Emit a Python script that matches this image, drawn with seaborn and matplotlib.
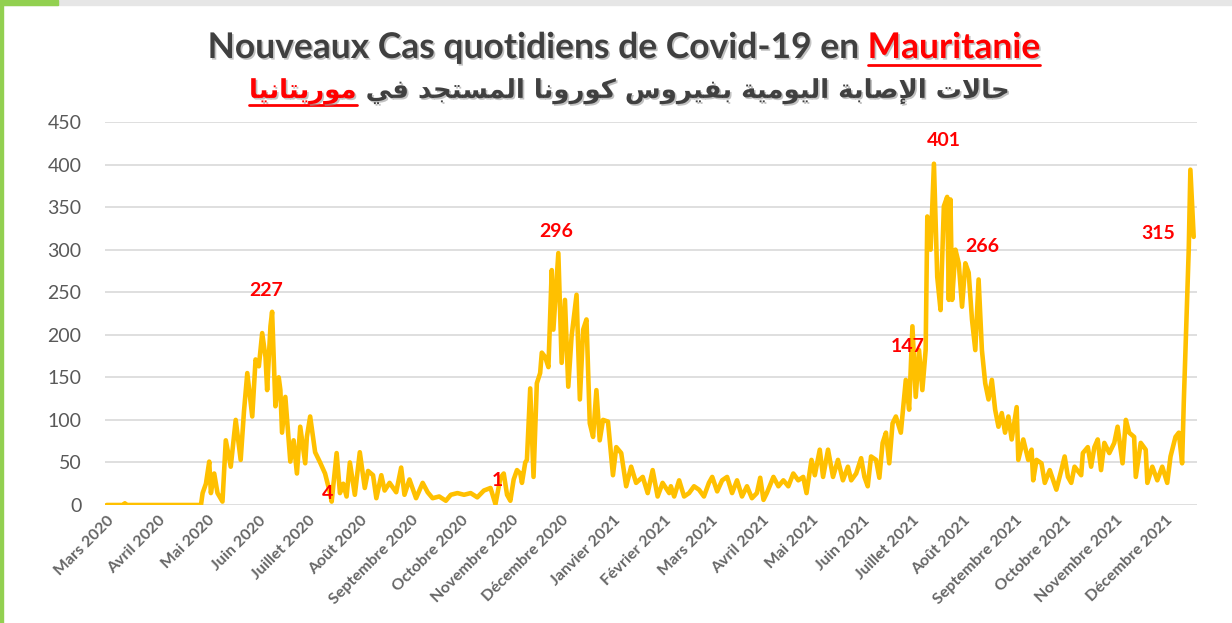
import matplotlib
matplotlib.use("Agg")
import matplotlib.pyplot as plt
import matplotlib.patheffects as pe
from matplotlib.lines import Line2D
from matplotlib.patches import Rectangle
import seaborn as sns
import pandas as pd

# ---------------- Data ----------------
start = pd.Timestamp("2020-03-01")

day_offsets = [0, 10, 11, 12, 57, 58, 60, 62, 63, 65, 67, 70, 72, 75, 78, 81, 83, 85, 88, 90,
               92, 94, 96, 97, 99, 100, 102, 104, 105, 106, 108, 111, 113, 115, 117, 120, 121, 123, 126, 129,
               132, 135, 136, 139, 141, 143, 145, 147, 150, 153, 156, 158, 161, 163, 166, 168, 171, 175, 178, 180,
               183, 187, 191, 194, 197, 201, 205, 208, 212, 216, 220, 224, 228, 232, 235, 238, 240, 242, 244, 246,
               248, 250, 251, 253, 254, 256, 258, 260, 262, 263, 265, 267, 269, 270, 273, 275, 277, 279, 281, 284,
               286, 288, 290, 292, 294, 296, 298, 300, 303, 306, 308, 311, 314, 317, 320, 324, 327, 330, 333, 336,
               340, 341, 343, 346, 349, 352, 355, 358, 361, 364, 366, 369, 372, 375, 378, 381, 384, 387, 390, 393,
               395, 397, 399, 403, 406, 409, 412, 415, 418, 421, 423, 426, 428, 431, 433, 436, 439, 442, 445, 448,
               450, 453, 456, 458, 460, 462, 465, 467, 469, 471, 473, 475, 477, 480, 483, 485, 487, 489, 491, 493,
               495, 496, 498, 500, 502, 504, 506, 508, 509, 510, 511, 513, 515, 517, 519, 521, 523, 525, 527, 529,
               531, 533, 535, 537, 539, 541, 543, 545, 547, 550, 551, 554, 557, 559, 560, 562, 565, 567, 570, 574,
               577, 579, 581, 583, 585, 589, 590, 593, 595, 597, 599, 601, 603, 606, 609, 611, 614, 616, 618, 621,
               622, 625, 628, 629, 632, 635, 638, 641, 643, 646, 648, 650, 651, 654, 655, 657]

new_cases = [0, 0, 2, 0, 0, 14, 25, 51, 14, 37, 14, 4, 76, 45, 100, 53, 110, 155, 104, 171,
             163, 202, 174, 135, 210, 227, 116, 150, 135, 85, 127, 51, 76, 37, 92, 49, 80, 104, 62, 50,
             37, 14, 4, 61, 14, 25, 10, 50, 12, 62, 20, 40, 35, 8, 35, 17, 26, 15, 44, 12,
             30, 8, 26, 15, 8, 10, 5, 12, 14, 12, 14, 9, 17, 20, 1, 32, 37, 12, 5, 30,
             41, 37, 26, 50, 53, 137, 33, 143, 155, 179, 174, 162, 276, 206, 296, 167, 241, 139, 198, 247,
             124, 206, 218, 96, 80, 135, 76, 100, 98, 35, 68, 61, 22, 45, 26, 33, 14, 41, 10, 26,
             14, 22, 10, 29, 10, 14, 22, 18, 10, 26, 33, 16, 29, 33, 14, 29, 10, 22, 8, 14,
             32, 6, 14, 33, 22, 29, 22, 37, 29, 33, 14, 53, 35, 65, 33, 65, 33, 53, 29, 45,
             29, 37, 55, 33, 22, 57, 53, 32, 73, 85, 49, 96, 104, 85, 147, 112, 210, 127, 182, 135,
             182, 339, 300, 401, 268, 229, 351, 362, 241, 359, 241, 300, 284, 233, 284, 273, 218, 182, 265, 182,
             143, 124, 147, 112, 92, 108, 85, 104, 77, 115, 53, 77, 53, 65, 29, 53, 49, 26, 41, 18,
             41, 57, 33, 26, 45, 35, 61, 68, 45, 68, 77, 41, 73, 61, 73, 92, 49, 100, 85, 80,
             33, 73, 65, 26, 45, 29, 45, 26, 57, 80, 85, 49, 120, 300, 394, 315]

month_labels = ["Mars 2020", "Avril 2020", "Mai 2020", "Juin 2020", "Juillet 2020", "Août 2020",
                "Septembre 2020", "Octobre 2020", "Novembre 2020", "Décembre 2020", "Janvier 2021",
                "Février 2021", "Mars 2021", "Avril 2021", "Mai 2021", "Juin 2021", "Juillet 2021",
                "Août 2021", "Septembre 2021", "Octobre 2021", "Novembre 2021", "Décembre 2021"]

# data labels written on the chart, attached to the day they point at
point_labels = ["227", "4", "1", "296", "147", "401", "266", "315"]
label_days = [100, 136, 235, 273, 483, 500, 527, 657]
label_offsets = [(-6, 21), (-4, 8), (2, 24), (-2, 22), (2, 33), (10, 23), (4, 33), (-35, 3)]

title_fr = "Nouveaux Cas quotidiens de Covid-19 en "
title_fr_red = "Mauritanie"
title_ar = "حالات الإصابة اليومية بفيروس كورونا المستجد في"
title_ar_red = "موريتانيا"

df = pd.DataFrame({
    "date": start + pd.to_timedelta(day_offsets, unit="D"),
    "cases": new_cases,
})

# ---------------- tiny Arabic shaper (matplotlib does no shaping / RTL) ----------------
FORMS = {  # isolated, final, initial, medial
    "\u0627": ("\uFE8D", "\uFE8E", None, None),
    "\u0625": ("\uFE87", "\uFE88", None, None),
    "\u0628": ("\uFE8F", "\uFE90", "\uFE91", "\uFE92"),
    "\u0629": ("\uFE93", "\uFE94", None, None),
    "\u062A": ("\uFE95", "\uFE96", "\uFE97", "\uFE98"),
    "\u062C": ("\uFE9D", "\uFE9E", "\uFE9F", "\uFEA0"),
    "\u062D": ("\uFEA1", "\uFEA2", "\uFEA3", "\uFEA4"),
    "\u062F": ("\uFEA9", "\uFEAA", None, None),
    "\u0631": ("\uFEAD", "\uFEAE", None, None),
    "\u0633": ("\uFEB1", "\uFEB2", "\uFEB3", "\uFEB4"),
    "\u0635": ("\uFEB9", "\uFEBA", "\uFEBB", "\uFEBC"),
    "\u0641": ("\uFED1", "\uFED2", "\uFED3", "\uFED4"),
    "\u0643": ("\uFED9", "\uFEDA", "\uFEDB", "\uFEDC"),
    "\u0644": ("\uFEDD", "\uFEDE", "\uFEDF", "\uFEE0"),
    "\u0645": ("\uFEE1", "\uFEE2", "\uFEE3", "\uFEE4"),
    "\u0646": ("\uFEE5", "\uFEE6", "\uFEE7", "\uFEE8"),
    "\u0648": ("\uFEED", "\uFEEE", None, None),
    "\u064A": ("\uFEF1", "\uFEF2", "\uFEF3", "\uFEF4"),
    "\uFEFB": ("\uFEFB", "\uFEFC", None, None),
    "\uFEF9": ("\uFEF9", "\uFEFA", None, None),
}


def shape_ar(text):
    text = text.replace("\u0644\u0627", "\uFEFB").replace("\u0644\u0625", "\uFEF9")
    out = []
    for i, ch in enumerate(text):
        if ch not in FORMS:
            out.append(ch)
            continue
        forms = FORMS[ch]
        prev = text[i - 1] if i > 0 else ""
        nxt = text[i + 1] if i + 1 < len(text) else ""
        jp = prev in FORMS and FORMS[prev][2] is not None
        jn = nxt in FORMS and forms[2] is not None
        idx = 3 if (jp and jn) else 1 if jp else 2 if jn else 0
        out.append(forms[idx])
    return "".join(reversed(out))


# ---------------- Plot ----------------
sns.set_theme(style="white")
plt.rcParams["font.family"] = ["Lato", "DejaVu Sans"]

W, H = 1232, 623
fig = plt.figure(figsize=(W / 100, H / 100), dpi=100)
ax = fig.add_axes([105 / W, 118 / H, (1197 - 105) / W, (505 - 122) / H])

sns.lineplot(data=df, x="date", y="cases", ax=ax, color="#FFC000", linewidth=3.3,
             estimator=None, sort=False)

ax.set_ylim(0, 450)
ax.set_xlim(start - pd.Timedelta(days=1), start + pd.Timedelta(days=659))
ax.set_yticks(range(0, 451, 50))
ax.yaxis.grid(True, color="#D9D9D9", linewidth=1.2)
ax.xaxis.grid(False)
ax.set_axisbelow(True)
for s in ax.spines.values():
    s.set_visible(False)

ticks = pd.date_range(start, periods=len(month_labels), freq="MS")
ax.set_xticks(ticks)
ax.set_xticklabels(month_labels, rotation=45, ha="right", rotation_mode="anchor",
                   fontsize=11.5, fontweight="bold", color="#666666")
ax.tick_params(axis="x", length=0, pad=6)
ax.tick_params(axis="y", length=0, pad=17, labelsize=14, labelcolor="#595959")
ax.set_xlabel("")
ax.set_ylabel("")

lookup = dict(zip(day_offsets, new_cases))
for txt, d, off in zip(point_labels, label_days, label_offsets):
    ax.annotate(txt, xy=(start + pd.Timedelta(days=d), lookup[d]), xytext=off,
                textcoords="offset pixels", ha="center", va="center",
                color="#FF0000", fontsize=14, fontweight="bold")

# ---------------- two-colour titles with underlined red word ----------------
shadow = [pe.withSimplePatchShadow(offset=(1.2, -1.2), shadow_rgbFace="#9a9a9a", alpha=0.6)]
renderer = fig.canvas.get_renderer()


def title_line(y, parts, size, family, cx=624, ul_drop=5):
    texts = []
    for s, col in parts:
        t = fig.text(0, 1 - y / H, s, color=col, fontsize=size, fontweight="bold",
                     family=family, ha="left", va="center", path_effects=shadow)
        texts.append(t)
    widths = [t.get_window_extent(renderer).width for t in texts]
    x = cx - sum(widths) / 2
    for t, w in zip(texts, widths):
        t.set_x(x / W)
        x += w
    for t, (s, col) in zip(texts, parts):
        if col == "#FF0000":
            bb = t.get_window_extent(renderer)
            yy = bb.y0 - ul_drop + 4
            fig.add_artist(Line2D([bb.x0 / W, bb.x1 / W], [yy / H, yy / H],
                                  color="#FF0000", linewidth=2, transform=fig.transFigure))


title_line(48, [(title_fr, "#404040"), (title_fr_red, "#FF0000")], 25.5, ["Lato", "DejaVu Sans"])
title_line(91, [(shape_ar(title_ar_red), "#FF0000"), (" " + shape_ar(title_ar), "#404040")],
           18.7, ["DejaVu Sans"], cx=630)

# screenshot frame bits
fig.add_artist(Rectangle((0, 0), 3 / W, 1, transform=fig.transFigure, color="#92D050", zorder=10))
fig.add_artist(Rectangle((0, 1 - 5 / H), 1, 5 / H, transform=fig.transFigure, color="#E6E6E6", zorder=9))
fig.add_artist(Rectangle((0, 1 - 5 / H), 58 / W, 5 / H, transform=fig.transFigure, color="#92D050", zorder=10))

fig.savefig("out.png", dpi=100)
